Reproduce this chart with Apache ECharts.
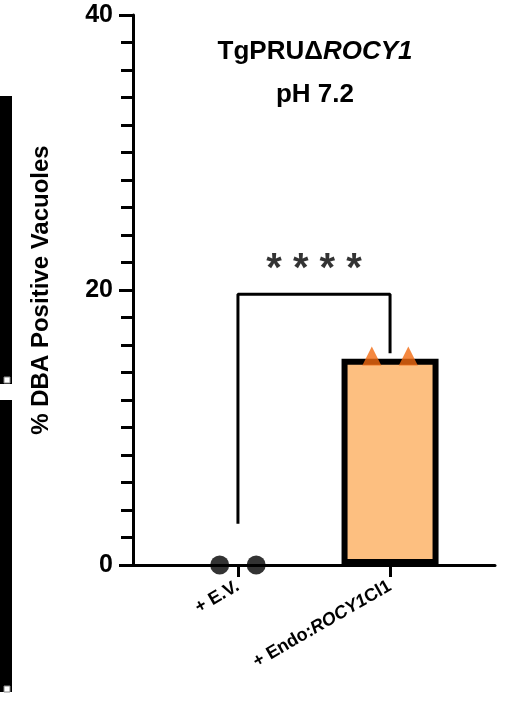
<!DOCTYPE html><html><head><meta charset="utf-8"><script src="https://cdn.jsdelivr.net/npm/echarts@6/dist/echarts.min.js"></script>
<style>html,body{margin:0;background:#fff}#c{width:527px;height:724px}</style></head><body><div id="c"></div>
<script>
const categories=['+ E.V.','+ Endo:ROCY1Cl1'];
const barValues=[[1,15]];
const evPoints=[[-0.12,0],[0.12,0]];
const endoPoints=[[0.88,15.2],[1.12,15.2]];
const bracket=[[0,3],[0,19.7],[1,19.7],[1,15.4]];
const F='Liberation Sans, Arial, sans-serif';
const chart=echarts.init(document.getElementById('c'));
chart.setOption({
 animation:false,
 grid:{left:133,right:32,top:15,bottom:159},
 xAxis:{type:'value',min:-0.69,max:1.69,splitLine:{show:false},
  axisLine:{onZero:false,lineStyle:{color:'#000',width:3}},
  axisTick:{customValues:[0,1],length:12,lineStyle:{color:'#000',width:3}},
  axisLabel:{customValues:[0,1],rotate:30,margin:20,fontFamily:F,fontWeight:'bold',fontSize:18,color:'#000',
   formatter:v=>v===0?categories[0]:'{n|+ Endo:}{i|ROCY1}{n|Cl1}',
   rich:{n:{fontFamily:F,fontWeight:'bold',fontSize:18,color:'#000'},i:{fontFamily:F,fontWeight:'bold',fontStyle:'italic',fontSize:18,color:'#000'}}}},
 yAxis:{type:'value',min:0,max:40,interval:20,splitLine:{show:false},
  name:'% DBA Positive Vacuoles',nameLocation:'middle',nameGap:80,
  nameTextStyle:{fontFamily:F,fontWeight:'bold',fontSize:24,color:'#000'},
  axisLine:{show:true,onZero:false,lineStyle:{color:'#000',width:3}},
  axisTick:{show:true,length:14,lineStyle:{color:'#000',width:3}},
  minorTick:{show:true,splitNumber:10,length:12,lineStyle:{color:'#000',width:3}},
  axisLabel:{fontFamily:F,fontWeight:'bold',fontSize:25,color:'#000',margin:20}},
 series:[
  {type:'bar',data:barValues,barWidth:97,z:2,
   itemStyle:{color:'#fdbf80',borderColor:'#000',borderWidth:6}},
  {type:'line',data:bracket,symbol:'none',lineStyle:{color:'#000',width:3},z:3},
  {type:'scatter',data:evPoints,symbol:'circle',symbolSize:19,itemStyle:{color:'#000'},z:5},
  {type:'scatter',data:endoPoints,symbol:'triangle',symbolSize:19,itemStyle:{color:'#f26a10'},z:5},
  {type:'scatter',data:[[0.5,20.3]],symbolSize:0,label:{show:true,position:'top',formatter:'* * * *',fontFamily:F,fontWeight:'bold',fontSize:40,color:'#000',distance:-4}}
 ],
 graphic:[
  {type:'text',style:{x:315,y:52,text:'{n|TgPRU\u0394}{i|ROCY1}',textAlign:'center',textVerticalAlign:'middle',rich:{n:{fontFamily:F,fontWeight:'bold',fontSize:26,fill:'#000'},i:{fontFamily:F,fontWeight:'bold',fontStyle:'italic',fontSize:26,fill:'#000'}}}},
  {type:'text',style:{x:315,y:95,text:'pH 7.2',textAlign:'center',textVerticalAlign:'middle',fontFamily:F,fontWeight:'bold',fontSize:26,fill:'#000'}},
  {type:'rect',shape:{x:0,y:96,width:12,height:288},style:{fill:'#000'}},
  {type:'rect',shape:{x:0,y:400,width:12,height:292},style:{fill:'#000'}},
  {type:'rect',shape:{x:4,y:377,width:6,height:6},style:{fill:'#fff',stroke:'#888',lineWidth:1}},
  {type:'rect',shape:{x:4,y:686,width:6,height:6},style:{fill:'#fff',stroke:'#888',lineWidth:1}}
 ]
});
</script></body></html>
